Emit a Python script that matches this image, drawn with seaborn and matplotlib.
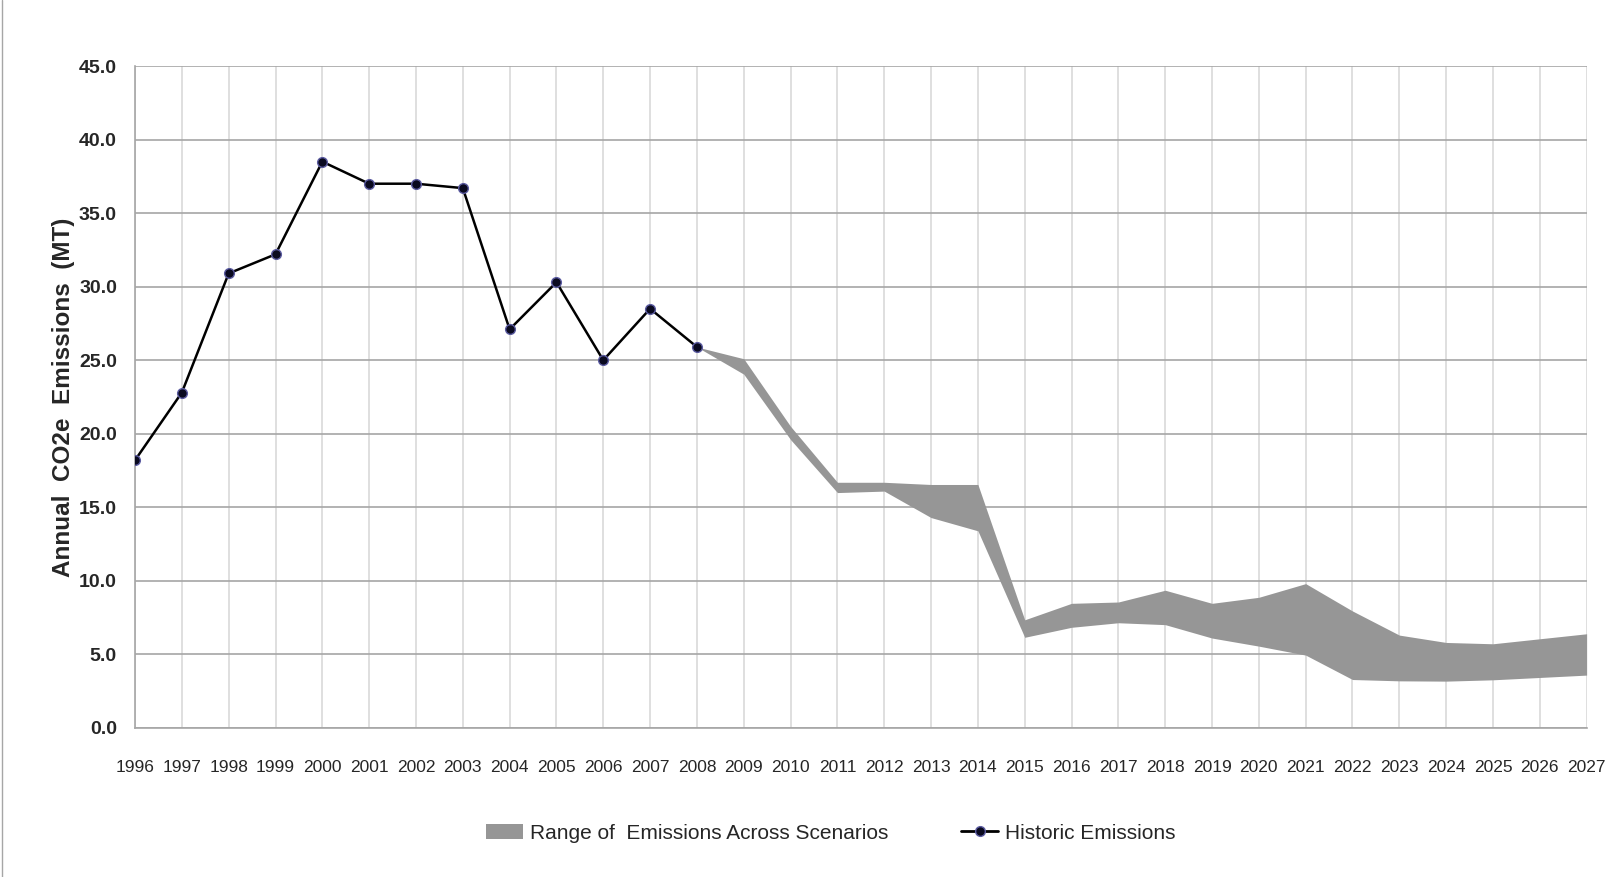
import matplotlib
matplotlib.use('Agg')
import matplotlib.pyplot as plt
from matplotlib.lines import Line2D
from matplotlib.patches import Patch
import seaborn as sns
import pandas as pd

# historic emissions (MT CO2e)
hist_years = list(range(1996, 2009))
hist_values = [18.2, 22.8, 30.9, 32.2, 38.5, 37.0, 37.0, 36.7, 27.1, 30.3, 25.0, 28.5, 25.9]

# scenario range
scen_years = list(range(2008, 2028))
scen_high = [25.9, 25.1, 20.5, 16.7, 16.7, 16.55, 16.55, 7.35, 8.47, 8.56, 9.36, 8.47,
             8.88, 9.81, 7.95, 6.31, 5.81, 5.72, 6.06, 6.4]
scen_low = [25.9, 24.05, 19.6, 16.0, 16.1, 14.3, 13.4, 6.16, 6.84, 7.15, 7.02, 6.11,
            5.56, 4.95, 3.29, 3.2, 3.18, 3.27, 3.43, 3.59]

hist = pd.DataFrame({'year': hist_years, 'value': hist_values})
scen = pd.DataFrame({'year': scen_years, 'high': scen_high, 'low': scen_low})

sns.set_style('white')
plt.rcParams['font.family'] = ['Liberation Sans Narrow', 'Liberation Sans', 'DejaVu Sans']

fig = plt.figure(figsize=(16.19, 8.77), dpi=100)
ax = fig.add_axes([0.0834, 0.170, 0.8966, 0.7547])

ax.fill_between(scen.year, scen.low, scen.high, color='#969696', linewidth=0, zorder=2)
sns.lineplot(data=hist, x='year', y='value', ax=ax, color='black', linewidth=1.8,
             marker='o', markersize=7, markerfacecolor='#0a0a20',
             markeredgecolor='#5a5aa0', markeredgewidth=1.0, zorder=3)

ax.set_xlim(1996, 2027)
ax.set_ylim(0, 45)
ax.set_xticks(range(1996, 2028))
ax.set_xticklabels([str(y) for y in range(1996, 2028)], fontsize=12.5)
ax.set_yticks([i * 5 for i in range(10)])
ax.set_yticklabels([f'{i * 5:.1f}' for i in range(10)], fontsize=14, fontweight='bold')
ax.grid(axis='y', color='#a6a6a6', linewidth=1.2, zorder=0)
ax.grid(axis='x', color='#d9d9d9', linewidth=1.2, zorder=0)
ax.set_axisbelow(True)
for s in ['top', 'right']:
    ax.spines[s].set_visible(False)
for s in ['left', 'bottom']:
    ax.spines[s].set_color('#a6a6a6')
    ax.spines[s].set_linewidth(1.2)
ax.tick_params(axis='y', direction='out', length=5, color='#a6a6a6', pad=8)
ax.tick_params(axis='x', direction='out', length=5, color='#a6a6a6', pad=18)

ax.set_xlabel('')
ax.set_ylabel('Annual  CO2e  Emissions  (MT)', fontsize=17.5, fontweight='bold', labelpad=3)

handles = [
    Patch(facecolor='#969696', edgecolor='none', label='Range of  Emissions Across Scenarios'),
    Line2D([0], [0], color='black', linewidth=2, marker='o', markersize=7,
           markerfacecolor='#0a0a20', markeredgecolor='#5a5aa0', label='Historic Emissions'),
]
fig.legend(handles=handles, loc='center', bbox_to_anchor=(0.513, 0.050), ncol=2,
           frameon=False, fontsize=15, columnspacing=3.5, handlelength=1.8, handletextpad=0.3)

fig.add_artist(Line2D([0.0015, 0.0015], [0, 1], color='#a6a6a6', linewidth=1, transform=fig.transFigure))

fig.savefig('out.png', dpi=100)
